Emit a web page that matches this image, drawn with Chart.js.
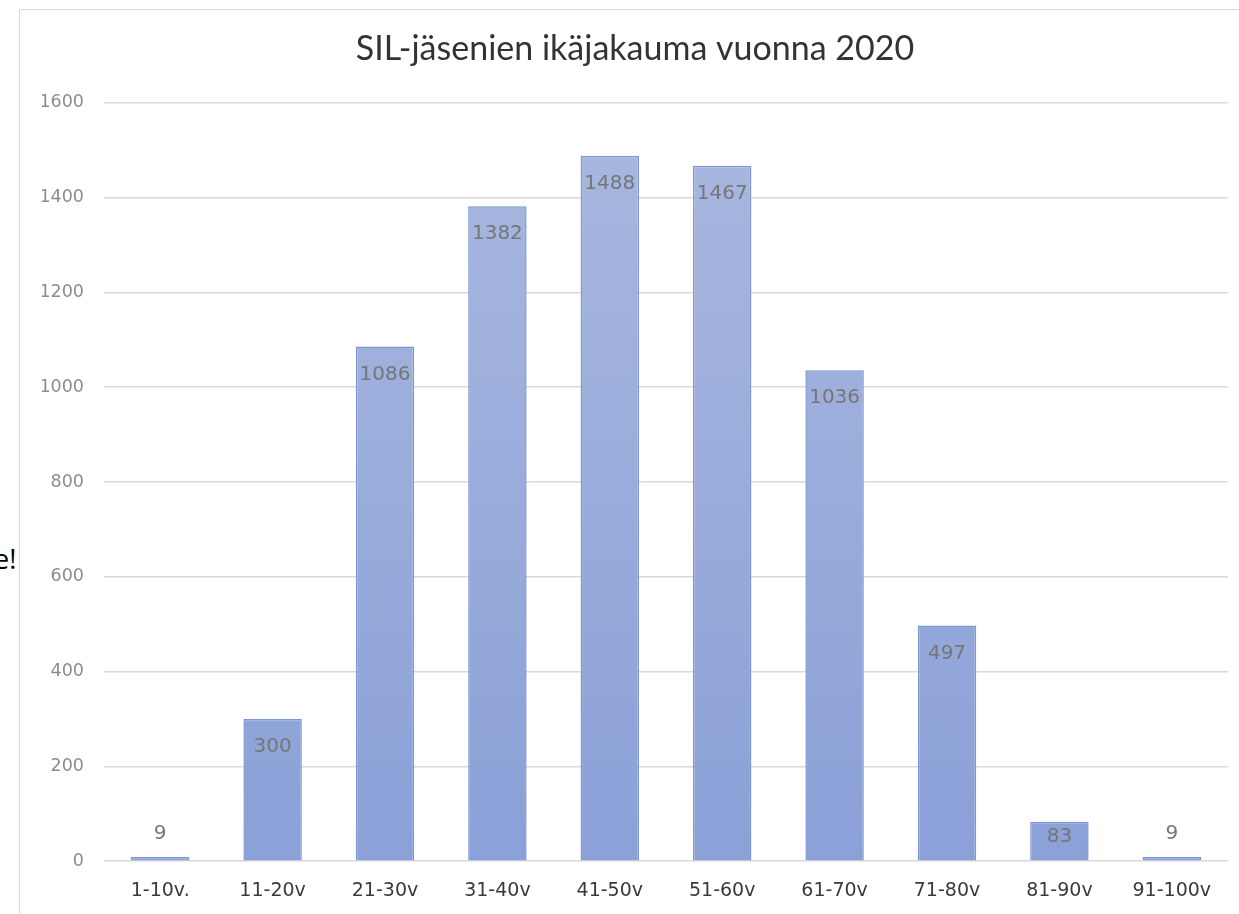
<!DOCTYPE html>
<html>
<head>
<meta charset="utf-8">
<script src="https://cdn.jsdelivr.net/npm/chart.js@4/dist/chart.umd.min.js"></script>
<style>
  body { margin: 0; background: #fff; overflow: hidden; width: 1239px; height: 914px; position: relative; }
  #box { position: absolute; left: 19px; top: 9px; width: 1260px; height: 932px; border: 1px solid #d9d9d9; box-sizing: border-box; }
  #side { position: absolute; left: -6px; top: 540px; font: 27px "Open Sans", sans-serif; color: #000; }
</style>
</head>
<body>
<span id="side">e!</span>
<div id="box"><canvas id="ageChart"></canvas></div>
<script>
const labels = ["1-10v.", "11-20v", "21-30v", "31-40v", "41-50v", "51-60v", "61-70v", "71-80v", "81-90v", "91-100v"];
const members = [9, 300, 1086, 1382, 1488, 1467, 1036, 497, 83, 9];
const yTicks = [0, 200, 400, 600, 800, 1000, 1200, 1400, 1600];

// value labels: inside the bar top, or above it when the bar is too short
const valueLabels = {
    id: "valueLabels",
    afterDatasetsDraw(chart) {
        const ctx = chart.ctx;
        const meta = chart.getDatasetMeta(0);
        ctx.save();
        ctx.font = "20px 'DejaVu Sans', sans-serif";
        ctx.fillStyle = "#767676";
        ctx.textAlign = "center";
        ctx.textBaseline = "middle";
        meta.data.forEach((bar, i) => {
            const h = bar.base - bar.y;
            const y = h < 20 ? bar.y - 23 : bar.y + Math.min(28, h * 0.4);
            ctx.fillText(members[i], bar.x, y);
        });
        ctx.restore();
    }
};

function barFill(context) {
    const area = context.chart.chartArea;
    if (!area) return "#95a8d8";
    const g = context.chart.ctx.createLinearGradient(0, area.top, 0, area.bottom);
    g.addColorStop(0, "#a9b8df");
    g.addColorStop(1, "#8aa0d7");
    return g;
}

new Chart(document.getElementById("ageChart").getContext("2d"), {
    type: "bar",
    data: {
        labels: labels,
        datasets: [
            {
                data: members,
                backgroundColor: barFill,
                borderColor: "#7e96d2",
                borderWidth: 1.5,
                barPercentage: 0.52,
                categoryPercentage: 1,
            },
        ],
    },
    options: {
        responsive: true,
        maintainAspectRatio: false,
        animation: false,
        layout: { padding: { top: 10, left: 22, right: 50, bottom: 20 } },
        plugins: {
            legend: { display: false },
            tooltip: { enabled: false },
            title: {
                display: true,
                text: "SIL-jäsenien ikäjakauma vuonna 2020",
                color: "#333333",
                font: { family: "Lato, sans-serif", size: 34, weight: "normal" },
                padding: { top: 9, bottom: 33 },
            },
        },
        scales: {
            x: {
                grid: { display: false, drawTicks: false },
                border: { display: false },
                ticks: {
                    color: "#3a3a3a",
                    padding: 18,
                    font: { family: "'DejaVu Sans', sans-serif", size: 19 },
                },
            },
            y: {
                min: 0,
                max: 1600,
                afterBuildTicks: (axis) => { axis.ticks = yTicks.map(v => ({ value: v })); },
                afterFit: (axis) => { axis.width = 62; },
                grid: { color: "#d9d9d9", lineWidth: 1.5, drawTicks: false },
                border: { display: false },
                ticks: {
                    color: "#8c8c8c",
                    padding: 20,
                    font: { family: "'DejaVu Sans', sans-serif", size: 17.5 },
                    callback: (v) => String(v),
                },
            },
        },
    },
    plugins: [valueLabels],
});
</script>
</body>
</html>
